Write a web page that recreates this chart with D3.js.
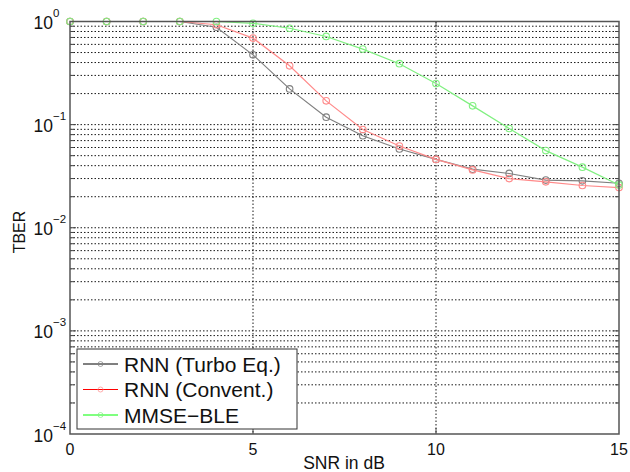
<!DOCTYPE html>
<html><head><meta charset="utf-8">
<script src="https://cdn.jsdelivr.net/npm/d3@7"></script>
<style>body{margin:0;background:#fff}svg{display:block}text{font-family:"Liberation Sans",Arial,sans-serif}</style>
</head><body>
<svg id="c" width="630" height="472"></svg>
<script>
const snr = [0,1,2,3,4,5,6,7,8,9,10,11,12,13,14,15];
const turbo = [1,1,1,1,0.88,0.475,0.222,0.118,0.078,0.058,0.046,0.037,0.0336,0.029,0.0285,0.027];
const convent = [1,1,1,1,0.93,0.69,0.372,0.17,0.0897,0.062,0.046,0.0364,0.030,0.0279,0.0257,0.0245];
const mmse = [1,1,1,1,1,0.96,0.86,0.716,0.54,0.39,0.25,0.152,0.0917,0.056,0.0387,0.026];
const seriesNames = ["RNN (Turbo Eq.)","RNN (Convent.)","MMSE\u2212BLE"];
const xTicks = [0,5,10,15];
const yTicks = [1,0.1,0.01,0.001,0.0001];
const yExps = ["0","\u22121","\u22122","\u22123","\u22124"];

const svg = d3.select("#c");
const L=70,T=21.5,R=619,B=434;
const x = d3.scaleLinear().domain([0,15]).range([L,R]);
const y = d3.scaleLog().domain([1e-4,1]).range([B,T]);

// grid
const g = svg.append("g");
const minor=[];
for(let e=-4;e<0;e++) for(let m=2;m<=9;m++) minor.push(m*Math.pow(10,e));
g.selectAll(".hm").data(minor.concat([0.1,0.01,0.001])).join("line")
 .attr("x1",L).attr("x2",R).attr("y1",d=>y(d)).attr("y2",d=>y(d))
 .attr("stroke","#000").attr("stroke-width",1).attr("stroke-dasharray","1.5,2").attr("opacity",0.9);
g.selectAll(".vm").data([5,10]).join("line")
 .attr("x1",d=>x(d)).attr("x2",d=>x(d)).attr("y1",T).attr("y2",B)
 .attr("stroke","#000").attr("stroke-width",1).attr("stroke-dasharray","1.5,2").attr("opacity",0.9);

// ticks
g.selectAll(".tl").data(minor).join("line")
 .attr("x1",L).attr("x2",L+4).attr("y1",d=>y(d)).attr("y2",d=>y(d)).attr("stroke","#444");
g.selectAll(".tr").data(minor).join("line")
 .attr("x1",R-4).attr("x2",R).attr("y1",d=>y(d)).attr("y2",d=>y(d)).attr("stroke","#444");
g.selectAll(".tmj").data([0.1,0.01,0.001]).join("line")
 .attr("x1",L).attr("x2",L+6).attr("y1",d=>y(d)).attr("y2",d=>y(d)).attr("stroke","#444");
g.selectAll(".tmjr").data([0.1,0.01,0.001]).join("line")
 .attr("x1",R-6).attr("x2",R).attr("y1",d=>y(d)).attr("y2",d=>y(d)).attr("stroke","#444");
g.selectAll(".tx").data([5,10]).join("line")
 .attr("x1",d=>x(d)).attr("x2",d=>x(d)).attr("y1",B).attr("y2",B-6).attr("stroke","#444");
g.selectAll(".txt").data([5,10]).join("line")
 .attr("x1",d=>x(d)).attr("x2",d=>x(d)).attr("y1",T).attr("y2",T+6).attr("stroke","#444");

// series
const data=[{v:turbo,c:"#808080",lc:"#000"},{v:convent,c:"#ff8a8a",lc:"#ff0000"},{v:mmse,c:"#80f080",lc:"#00ff00"}];
const line=d3.line().x((d,i)=>x(snr[i])).y(d=>y(d));
data.forEach(s=>{
  svg.append("path").attr("d",line(s.v)).attr("fill","none").attr("stroke",s.c).attr("stroke-width",1.2);
  svg.append("g").selectAll("circle").data(s.v).join("circle")
   .attr("cx",(d,i)=>x(snr[i])).attr("cy",d=>y(d)).attr("r",3.3)
   .attr("fill","none").attr("stroke",s.c).attr("stroke-width",1.1);
});

// axes frame
svg.append("rect").attr("x",L).attr("y",T).attr("width",R-L).attr("height",B-T)
 .attr("fill","none").attr("stroke","#555").attr("stroke-width",1.5);

// tick labels
svg.append("g").selectAll("text").data(xTicks).join("text")
 .attr("x",d=>x(d)).attr("y",455).attr("text-anchor","middle").attr("font-size",16).attr("fill","#111").text(d=>d);
svg.append("g").selectAll("text").data(yTicks).join("text")
 .attr("x",53).attr("y",d=>y(d)+7.5).attr("text-anchor","end").attr("font-size",17.5).attr("fill","#111").text("10");
svg.append("g").selectAll("text").data(yTicks).join("text")
 .attr("x",53).attr("y",d=>y(d)-4.5).attr("font-size",11.5).attr("fill","#111").text((d,i)=>yExps[i]);

svg.append("text").attr("x",344).attr("y",469).attr("text-anchor","middle").attr("font-size",17.5).attr("fill","#111").text("SNR in dB");
svg.append("text").attr("transform","translate(25,232) rotate(-90)").attr("text-anchor","middle").attr("font-size",16).attr("fill","#111").text("TBER");

// legend
const lg=svg.append("g");
lg.append("rect").attr("x",77).attr("y",349).attr("width",220).attr("height",80).attr("fill","#fff").attr("stroke","#333").attr("stroke-width",1);
seriesNames.forEach((n,i)=>{
  const yy=364+i*25.5;
  lg.append("line").attr("x1",83).attr("x2",118).attr("y1",yy).attr("y2",yy).attr("stroke",data[i].lc).attr("stroke-width",1);
  lg.append("circle").attr("cx",100.5).attr("cy",yy).attr("r",2.5).attr("fill","none").attr("stroke",data[i].c).attr("opacity",0.7);
  lg.append("text").attr("x",124).attr("y",yy+7.5).attr("font-size",21).attr("fill","#111").text(n);
});
</script>
</body></html>
